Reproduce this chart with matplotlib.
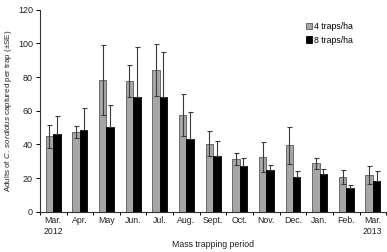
import matplotlib
matplotlib.use('Agg')
import matplotlib.pyplot as plt
import numpy as np

# Data
months = ["Mar.\n2012", "Apr.", "May", "Jun.", "Jul.", "Aug.", "Sept.",
          "Oct.", "Nov.", "Dec.", "Jan.", "Feb.", "Mar.\n2013"]
traps4 = [44.8, 47.3, 78.2, 77.8, 84.0, 57.4, 40.5, 31.2, 32.4, 39.5, 28.8, 20.5, 21.7]
traps4_se = [6.9, 3.4, 20.7, 9.6, 15.5, 12.3, 7.2, 3.5, 9.0, 11.0, 3.2, 4.2, 5.3]
traps8 = [46.3, 48.3, 50.5, 67.9, 67.9, 43.5, 33.0, 27.0, 25.0, 20.5, 22.3, 14.4, 18.2]
traps8_se = [10.5, 13.1, 12.9, 30.0, 26.8, 15.5, 9.0, 4.8, 2.8, 3.8, 3.1, 1.4, 5.9]
yticks = [0, 20, 40, 60, 80, 100, 120]

plt.rcParams['font.family'] = ['Liberation Sans', 'DejaVu Sans']
plt.rcParams['mathtext.fontset'] = 'custom'
plt.rcParams['mathtext.rm'] = 'Liberation Sans'
plt.rcParams['mathtext.it'] = 'Liberation Sans:italic'

fig = plt.figure(figsize=(3.87, 2.52), dpi=100)
ax = fig.add_axes([0.103, 0.159, 0.895, 0.803])

x = np.arange(len(months))
w = 0.28
err_kw = dict(ecolor='#3a3a3a', elinewidth=0.8, capsize=1.8, capthick=0.8)
ax.bar(x - w / 2, traps4, w, yerr=traps4_se, color='#a6a6a6',
       edgecolor='#595959', linewidth=0.6, label='4 traps/ha', error_kw=err_kw)
# lower half of the black bars' error bars is hidden inside the bar
ax.bar(x + w / 2, traps8, w, yerr=[np.zeros(len(traps8_se)), traps8_se],
       color='black', edgecolor='black', linewidth=0.6, label='8 traps/ha',
       error_kw=err_kw)

ax.set_xlim(-0.5, len(months) - 0.5)
ax.set_ylim(0, 120)
ax.set_yticks(yticks)
ax.set_xticks(x)
ax.set_xticklabels(months, fontsize=6.3, color='#222222', linespacing=1.25)
ax.set_xticks(np.arange(len(months) + 1) - 0.5, minor=True)
ax.tick_params(axis='x', which='major', length=0, pad=3)
ax.tick_params(axis='x', which='minor', length=2.5, width=0.7, direction='out')
ax.tick_params(axis='y', labelsize=6.5, length=3, width=0.7, direction='out',
               labelcolor='#222222', pad=2)

for side in ['top', 'right']:
    ax.spines[side].set_visible(False)
for side in ['left', 'bottom']:
    ax.spines[side].set_linewidth(0.8)
    ax.spines[side].set_color('#333333')

ax.set_ylabel(r"Adults of $\it{C.\ sordidus}$ captured per trap (±SE)",
              fontsize=5.8, color='#222222', labelpad=3)
ax.set_xlabel("Mass trapping period", fontsize=6.3, color='#222222', labelpad=3)

ax.legend(loc='upper right', bbox_to_anchor=(0.915, 0.955), frameon=False,
          fontsize=6.3, handlelength=0.7, handleheight=0.7, handletextpad=0.3,
          labelspacing=0.5, borderaxespad=0)

fig.savefig('out.png', dpi=100)
